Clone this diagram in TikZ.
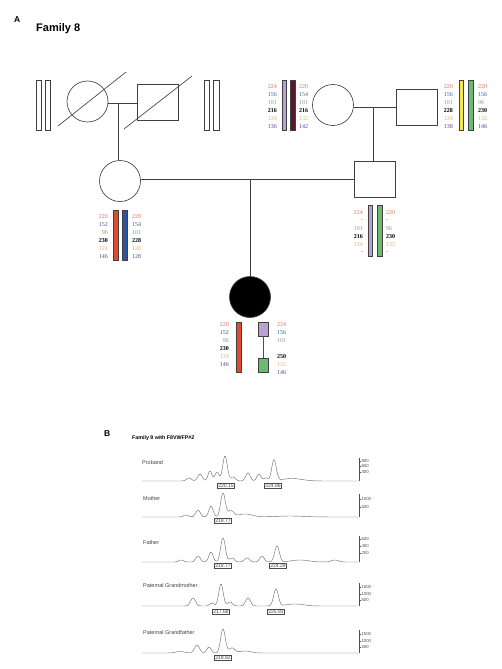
\documentclass[tikz,border=0pt]{standalone}
\usepackage{fontspec}
\setmainfont{Liberation Serif}
\setsansfont{Liberation Sans}
\definecolor{c1}{HTML}{E0705F}
\definecolor{c2}{HTML}{3F5FA0}
\definecolor{c3}{HTML}{7FA07A}
\definecolor{c5}{HTML}{F0A878}
\definecolor{c6}{HTML}{4E4A92}
\definecolor{lav}{HTML}{B9A2D2}
\definecolor{maroon}{HTML}{5A1630}
\definecolor{yel}{HTML}{F4E84E}
\definecolor{grn}{HTML}{6DB872}
\definecolor{redo}{HTML}{E04A2E}
\definecolor{blu}{HTML}{3252A2}
\definecolor{tracec}{HTML}{707070}
\begin{document}
\begin{tikzpicture}[x=1pt,y=-1pt,
  declare function={gp(\u,\c,\w)=exp(-min(((\u-\c)/\w)^2,60));},
  ped/.style={draw=black!75, line width=0.65pt},
  pcirc/.style={ped, circle, minimum size=41pt, inner sep=0pt},
  psq/.style={ped, rectangle, minimum width=41pt, minimum height=36pt, inner sep=0pt},
  barst/.style={draw=black!75, line width=0.5pt},
  hapnum/.style={font=\fontsize{6}{7}\selectfont, inner sep=0pt},
  h1/.style={text=c1}, h2/.style={text=c2}, h3/.style={text=c3},
  h4/.style={text=black, font=\fontsize{6}{7}\selectfont\bfseries},
  h5/.style={text=c5}, h6/.style={text=c6},
  trace/.style={draw=tracec, line width=0.45pt},
  tracelab/.style={font=\sffamily\fontsize{5.5}{6}\selectfont, text=black!75, anchor=west, inner sep=0pt},
  ticklab/.style={font=\sffamily\fontsize{4.3}{5}\selectfont, text=black!70, anchor=west, inner sep=0.3pt},
  sizebox/.style={draw=black!70, line width=0.4pt, font=\sffamily\fontsize{5}{6}\selectfont, text=black!75, inner sep=0.8pt},
  axisl/.style={draw=black!70, line width=0.4pt}
]
\useasboundingbox (0,0) rectangle (502,669);
\newcommand\hapcol[5]{\foreach \t/\s [count=\i] in {#5} {\node[hapnum,\s,anchor=#4] (#1\i) at (#2,{#3+8*(\i-1)}) {\t};}}

% ---------- Panel A ----------
\node[font=\sffamily\bfseries\fontsize{8.5}{9}\selectfont, anchor=west, inner sep=0pt] (lblA) at (14,20) {A};
\node[font=\sffamily\bfseries\fontsize{11}{12}\selectfont, anchor=west, inner sep=0pt] (titA) at (36,29) {Family 8};

% maternal grandparents
\node[pcirc] (mgm) at (87.5,101.5) {};
\node[psq] (mgf) at (157.5,102.5) {};
\draw[ped] (58,126) -- (126,72);
\draw[ped] (124,129) -- (192,76);
\draw[barst] (36,80) rectangle (41,130);
\draw[barst] (45,80) rectangle (50,130);
\draw[barst] (204,80) rectangle (209,130);
\draw[barst] (213,80) rectangle (219,130);
\draw[ped] (mgm.east |- 0,103) -- (mgf.west |- 0,103);
\coordinate (m1) at (118,103);

% mother
\node[pcirc] (mother) at (120,181) {};
\draw[ped] (m1) -- (m1 |- mother.north);

% paternal grandparents
\node[pcirc] (pgm) at (333,105) {};
\node[psq] (pgf) at (416.5,107) {};
\draw[ped] (pgm.east |- 0,107) -- (pgf.west |- 0,107);
\coordinate (m3) at (373,107);

% father
\node[psq] (father) at (374.5,179) {};
\draw[ped] (m3) -- (m3 |- father.north);

% couple line and proband
\draw[ped] (mother.east |- 0,179) -- (father.west);
\coordinate (m2) at (250,179);
\node[pcirc, fill=black] (proband) at (250,297) {};
\draw[ped] (m2) -- (proband.north);

% paternal grandmother haplotypes
\draw[barst, fill=lav] (282,80) rectangle (286,130);
\draw[barst, fill=maroon] (290,80) rectangle (295,130);
\hapcol{pgmL}{277}{87}{east}{224/h1,156/h2,101/h3,216/h4,124/h5,136/h6}
\hapcol{pgmR}{299}{87}{west}{220/h1,154/h2,101/h3,216/h4,132/h5,142/h6}

% paternal grandfather haplotypes
\draw[barst, fill=yel] (459,80) rectangle (463,130);
\draw[barst, fill=grn] (468,80) rectangle (473,130);
\hapcol{pgfL}{453}{87}{east}{220/h1,156/h2,101/h3,228/h4,124/h5,138/h6}
\hapcol{pgfR}{478}{87}{west}{220/h1,156/h2,96/h3,230/h4,132/h5,146/h6}

% mother haplotypes
\draw[barst, fill=redo] (113,210) rectangle (118,260);
\draw[barst, fill=blu] (122,210) rectangle (127,260);
\hapcol{moL}{108}{217}{east}{220/h1,152/h2,96/h3,230/h4,124/h5,146/h6}
\hapcol{moR}{132}{217}{west}{220/h1,154/h2,101/h3,228/h4,128/h5,128/h6}

% father haplotypes
\draw[barst, fill=lav] (368,205) rectangle (372,256);
\draw[barst, fill=grn] (377,205) rectangle (382,256);
\hapcol{faL}{363}{213}{east}{224/h1,-/h2,101/h3,216/h4,124/h5,-/h6}
\hapcol{faR}{386}{213}{west}{220/h1,-/h2,96/h3,230/h4,132/h5,-/h6}

% proband haplotypes
\draw[barst, fill=redo] (236,322) rectangle (241,372);
\node[barst, fill=lav, minimum width=10pt, minimum height=14pt, inner sep=0pt] (pb1) at (263,329) {};
\node[barst, fill=grn, minimum width=10pt, minimum height=14pt, inner sep=0pt] (pb2) at (263,365) {};
\draw[draw=black!70, line width=0.5pt] (pb1.south) -- (pb2.north);
\hapcol{prL}{229}{325}{east}{220/h1,152/h2,96/h3,230/h4,124/h5,146/h6}
\hapcol{prR}{277}{325}{west}{224/h1,156/h2,101/h3}
\hapcol{prS}{277}{357}{west}{250/h4,132/h5,146/h6}

% ---------- Panel B ----------
\node[font=\sffamily\bfseries\fontsize{8.5}{9}\selectfont, anchor=west, inner sep=0pt] (lblB) at (104,434) {B};
\node[font=\sffamily\bfseries\fontsize{5.3}{6}\selectfont, anchor=west, inner sep=0pt] (titB) at (132,438) {Family 8 with F8VWFP\#2};

% Proband trace
\node[tracelab] (tl1) at (142,463) {Proband};
\draw[trace] plot[domain=142:358, samples=260, smooth] (\x, {481 - 25*gp(\x,225,3.2) - 21*gp(\x,274,3.2) - 9*gp(\x,217,2.8) - 10*gp(\x,210,2.8) - 7*gp(\x,200,3.2) - 3*gp(\x,189,3.5) - 4*gp(\x,233,3.5) - 8*gp(\x,248,3.2) - 7*gp(\x,259,3) - 3*gp(\x,266,2.8) - 2.5*gp(\x,292,14)});
\draw[axisl] (359,458) -- (359,481);
\foreach \yy/\tt [count=\k] in {461/900,466/600,472/300} {\draw[axisl] (359,\yy) -- (361,\yy) node[ticklab] (tk1\k) {\tt};}
\node[sizebox] (s11) at (226,486) {220.15};
\node[sizebox] (s12) at (273,486) {224.86};

% Mother trace
\node[tracelab] (tl2) at (143,499) {Mother};
\draw[trace] plot[domain=142:358, samples=260, smooth] (\x, {517 - 24*gp(\x,223,3.3) - 11*gp(\x,211,3) - 7*gp(\x,198,3.2) - 2*gp(\x,186,3.5) - 6*gp(\x,231,4) - 3*gp(\x,245,10) - 1*gp(\x,290,20)});
\draw[axisl] (359,494) -- (359,517);
\foreach \yy/\tt [count=\k] in {499/1000,507/500} {\draw[axisl] (359,\yy) -- (361,\yy) node[ticklab] (tk2\k) {\tt};}
\node[sizebox] (s21) at (223,521) {219.77};

% Father trace
\node[tracelab] (tl3) at (143,543) {Father};
\draw[trace] plot[domain=142:358, samples=260, smooth] (\x, {562 - 24*gp(\x,223,3.3) - 10*gp(\x,211,3) - 6*gp(\x,198,3.2) - 2*gp(\x,181,3.5) - 4*gp(\x,232,3.5) - 4*gp(\x,247,3.5) - 6*gp(\x,262,3.2) - 16*gp(\x,277,3.3) - 2*gp(\x,300,12) - 2*gp(\x,335,5)});
\draw[axisl] (359,536) -- (359,562);
\foreach \yy/\tt [count=\k] in {539/600,546/400,553/200} {\draw[axisl] (359,\yy) -- (361,\yy) node[ticklab] (tk3\k) {\tt};}
\node[sizebox] (s31) at (223,566) {219.77};
\node[sizebox] (s32) at (278,566) {224.29};

% Paternal grandmother trace
\node[tracelab] (tl4) at (143,586) {Paternal Grandmother};
\draw[trace] plot[domain=142:358, samples=260, smooth] (\x, {606 - 22*gp(\x,221,3.1) - 8*gp(\x,193,3.5) - 3*gp(\x,212,3) - 4*gp(\x,230,3.5) - 8*gp(\x,248,3.5) - 17*gp(\x,276,3.3) - 2*gp(\x,295,12)});
\draw[axisl] (359,583) -- (359,606);
\foreach \yy/\tt [count=\k] in {587/1500,594/1000,600/500} {\draw[axisl] (359,\yy) -- (361,\yy) node[ticklab] (tk4\k) {\tt};}
\node[sizebox] (s41) at (221,612) {217.68};
\node[sizebox] (s42) at (276,612) {225.91};

% Paternal grandfather trace
\node[tracelab] (tl5) at (143,633) {Paternal Grandfather};
\draw[trace] plot[domain=142:358, samples=260, smooth] (\x, {653 - 24*gp(\x,223,3.3) - 8*gp(\x,197,3.5) - 6*gp(\x,209,3) - 5*gp(\x,232,4) - 2*gp(\x,245,8) - 1.5*gp(\x,180,6)});
\draw[axisl] (359,630) -- (359,653);
\foreach \yy/\tt [count=\k] in {634/1500,641/1000,647/500} {\draw[axisl] (359,\yy) -- (361,\yy) node[ticklab] (tk5\k) {\tt};}
\node[sizebox] (s51) at (223,658) {219.82};
\end{tikzpicture}
\end{document}
